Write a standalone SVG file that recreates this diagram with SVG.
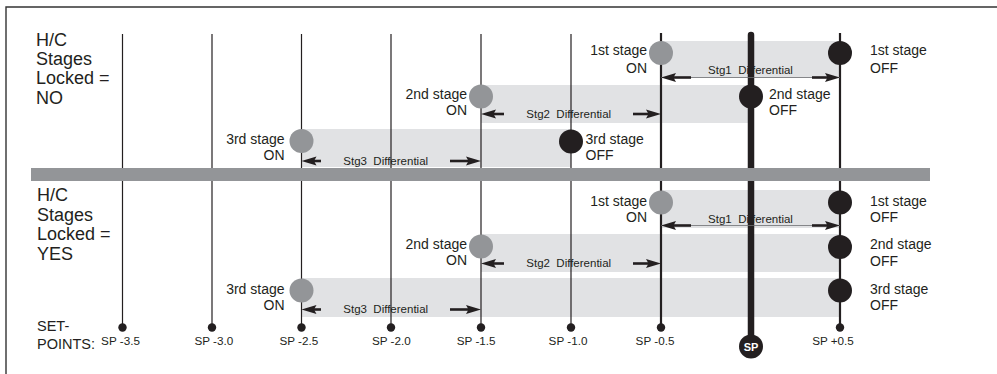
<svg xmlns="http://www.w3.org/2000/svg" width="997" height="374" viewBox="0 0 997 374">
<defs>
<style>
text{font-family:"Liberation Sans",Arial,sans-serif;fill:#231f20}
.big{font-size:18px}
.lbl{font-size:14px}
.dif{font-size:11.5px;text-anchor:middle}
.sp{font-size:11.7px;text-anchor:middle}
.r{text-anchor:end}
.band{fill:#e1e2e4}
.vl{stroke:#231f20;stroke-width:1.2;fill:none}
.vlb{stroke:#231f20;stroke-width:2.2;fill:none}
.on{fill:#939598}
.off{fill:#231f20}
.dot{fill:#231f20}
.arr{stroke:#231f20;stroke-width:2.6;fill:none;marker-end:url(#ah)}
.thin{stroke:#6d6e71;stroke-width:0.8}
</style>
<marker id="ah" markerUnits="userSpaceOnUse" markerWidth="16" markerHeight="10" refX="7" refY="5" orient="auto" viewBox="0 0 16 10">
<path d="M0,0.5 L15,5 L0,9.5 L2.5,5 Z" fill="#231f20"/>
</marker>
</defs>
<rect width="997" height="374" fill="#ffffff"/>
<g id="frame" fill="none" stroke="#333" stroke-width="1.4">
<path d="M6,374 V7 H997"/>
</g>
<g id="bands">
<rect class="band" x="661" y="41" width="179" height="37"/>
<rect class="band" x="481" y="85" width="270" height="38"/>
<rect class="band" x="301.5" y="129" width="269.5" height="38"/>
<rect class="band" x="661" y="190" width="179" height="38"/>
<rect class="band" x="481" y="234" width="359" height="38"/>
<rect class="band" x="301.5" y="278" width="538.5" height="39"/>
</g>
<g id="setpoint-lines">
<line class="vl" x1="122.5" y1="34" x2="122.5" y2="327"/>
<line class="vl" x1="212" y1="34" x2="212" y2="327"/>
<line class="vl" x1="301.5" y1="34" x2="301.5" y2="327"/>
<line class="vl" x1="391" y1="34" x2="391" y2="327"/>
<line class="vl" x1="481" y1="34" x2="481" y2="327"/>
<line class="vl" x1="571" y1="34" x2="571" y2="327"/>
<line class="vlb" x1="661" y1="33" x2="661" y2="327"/>
<line class="vlb" x1="840" y1="33" x2="840" y2="327"/>
<line x1="751" y1="35" x2="751" y2="346" stroke="#231f20" stroke-width="6.5" stroke-linecap="round"/>
</g>
<g id="setpoints">
<circle class="dot" cx="122.5" cy="327.5" r="4.2"/>
<circle class="dot" cx="212" cy="327.5" r="4.2"/>
<circle class="dot" cx="301.5" cy="327.5" r="4.2"/>
<circle class="dot" cx="391" cy="327.5" r="4.2"/>
<circle class="dot" cx="481" cy="327.5" r="4.2"/>
<circle class="dot" cx="571" cy="327.5" r="4.2"/>
<circle class="dot" cx="661" cy="327.5" r="4.2"/>
<circle class="dot" cx="840" cy="327.5" r="4.2"/>
<text class="sp" x="120.5" y="345">SP -3.5</text>
<text class="sp" x="213.8" y="345">SP -3.0</text>
<text class="sp" x="298.8" y="345">SP -2.5</text>
<text class="sp" x="391.3" y="345">SP -2.0</text>
<text class="sp" x="476.2" y="345">SP -1.5</text>
<text class="sp" x="568" y="345">SP -1.0</text>
<text class="sp" x="655" y="345">SP -0.5</text>
<text class="sp" x="833" y="345">SP +0.5</text>
<text style="font-size:14.5px" x="37" y="331">SET-</text>
<text style="font-size:14.5px" x="37" y="349">POINTS:</text>
</g>
<g id="sp-node">
<circle cx="751" cy="346.5" r="12" fill="#231f20"/>
<text x="751" y="350.8" style="font-size:11px;font-weight:bold;fill:#fff;text-anchor:middle">SP</text>
</g>
<g id="separator">
<rect x="31" y="168" width="899" height="13" fill="#939598"/>
</g>
<g id="label-no" class="big">
<text class="big" x="36" y="45.5">H/C</text>
<text class="big" x="36" y="65">Stages</text>
<text class="big" x="36" y="84">Locked =</text>
<text class="big" x="36" y="103.5">NO</text>
</g>
<g id="label-yes">
<text class="big" x="37" y="201">H/C</text>
<text class="big" x="37" y="220.5">Stages</text>
<text class="big" x="37" y="240">Locked =</text>
<text class="big" x="37" y="260">YES</text>
</g>
<g id="connectors">
<line class="thin" x1="661" y1="77.5" x2="840" y2="77.5"/>
<line class="arr" x1="691" y1="77.5" x2="669" y2="77.5"/>
<line class="arr" x1="812" y1="77.5" x2="832" y2="77.5"/>
<text class="dif" x="750.5" y="74" xml:space="preserve">Stg1  Differential</text>
<line class="arr" x1="504" y1="114" x2="489" y2="114"/>
<line class="arr" x1="633" y1="114" x2="653" y2="114"/>
<text class="dif" x="568.7" y="117.5" xml:space="preserve">Stg2  Differential</text>
<line class="arr" x1="321" y1="161" x2="309.5" y2="161"/>
<line class="arr" x1="450" y1="161" x2="473" y2="161"/>
<text class="dif" x="385.7" y="164.5" xml:space="preserve">Stg3  Differential</text>
<line class="thin" x1="661" y1="225.5" x2="840" y2="225.5"/>
<line class="arr" x1="691" y1="225.5" x2="669" y2="225.5"/>
<line class="arr" x1="812" y1="225.5" x2="832" y2="225.5"/>
<text class="dif" x="750.5" y="223" xml:space="preserve">Stg1  Differential</text>
<line class="arr" x1="504" y1="263.5" x2="489" y2="263.5"/>
<line class="arr" x1="633" y1="263.5" x2="653" y2="263.5"/>
<text class="dif" x="568.7" y="267" xml:space="preserve">Stg2  Differential</text>
<line class="arr" x1="321" y1="309.5" x2="309.5" y2="309.5"/>
<line class="arr" x1="450" y1="309.5" x2="473" y2="309.5"/>
<text class="dif" x="385.7" y="313" xml:space="preserve">Stg3  Differential</text>
</g>
<g id="no-stg1-on"><circle class="on" cx="661" cy="53" r="12"/><text class="lbl r" x="647" y="55">1st stage</text><text class="lbl r" x="647" y="72.5">ON</text></g>
<g id="no-stg1-off"><circle class="off" cx="840" cy="53" r="12"/><text class="lbl" x="870" y="55">1st stage</text><text class="lbl" x="870" y="72.5">OFF</text></g>
<g id="no-stg2-on"><circle class="on" cx="481" cy="96.5" r="12"/><text class="lbl r" x="467" y="99">2nd stage</text><text class="lbl r" x="467" y="115">ON</text></g>
<g id="no-stg2-off"><circle class="off" cx="751" cy="96.5" r="12"/><text class="lbl" x="769" y="99">2nd stage</text><text class="lbl" x="769" y="115">OFF</text></g>
<g id="no-stg3-on"><circle class="on" cx="301.5" cy="141" r="12"/><text class="lbl r" x="284.5" y="144">3rd stage</text><text class="lbl r" x="284.5" y="160">ON</text></g>
<g id="no-stg3-off"><circle class="off" cx="571" cy="141.5" r="12"/><text class="lbl" x="585.5" y="144">3rd stage</text><text class="lbl" x="585.5" y="160">OFF</text></g>
<g id="yes-stg1-on"><circle class="on" cx="661" cy="202.5" r="12"/><text class="lbl r" x="647" y="205.5">1st stage</text><text class="lbl r" x="647" y="222">ON</text></g>
<g id="yes-stg1-off"><circle class="off" cx="840" cy="202.5" r="12"/><text class="lbl" x="870" y="205.5">1st stage</text><text class="lbl" x="870" y="222">OFF</text></g>
<g id="yes-stg2-on"><circle class="on" cx="481" cy="246.5" r="12"/><text class="lbl r" x="467" y="249">2nd stage</text><text class="lbl r" x="467" y="265">ON</text></g>
<g id="yes-stg2-off"><circle class="off" cx="840" cy="247" r="12"/><text class="lbl" x="870" y="249">2nd stage</text><text class="lbl" x="870" y="265.5">OFF</text></g>
<g id="yes-stg3-on"><circle class="on" cx="301.5" cy="290.5" r="12"/><text class="lbl r" x="284.5" y="293.5">3rd stage</text><text class="lbl r" x="284.5" y="310">ON</text></g>
<g id="yes-stg3-off"><circle class="off" cx="840" cy="290.5" r="12"/><text class="lbl" x="870" y="293.5">3rd stage</text><text class="lbl" x="870" y="310">OFF</text></g>
</svg>
